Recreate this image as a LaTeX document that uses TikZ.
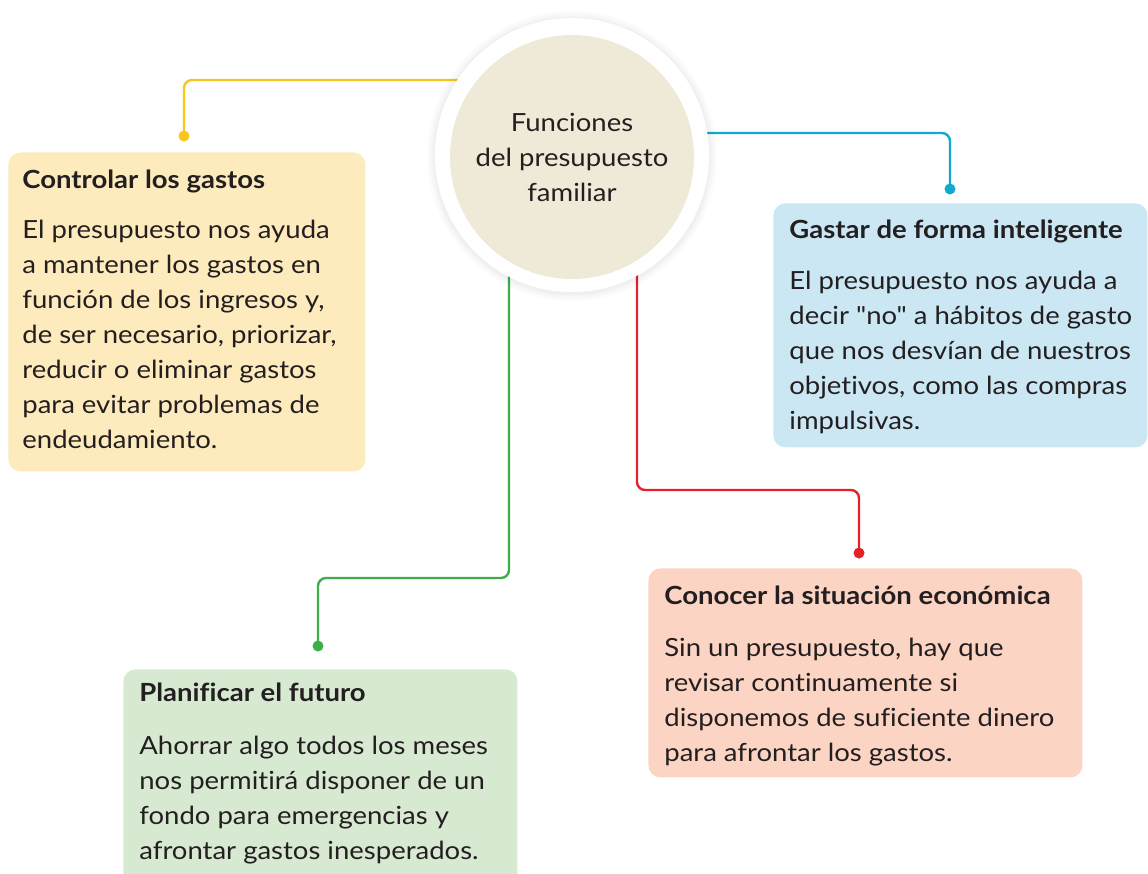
\documentclass[tikz,border=0pt]{standalone}
\usepackage{fontspec}
\setmainfont{Lato}[Ligatures={TeXOff,CommonOff}, FakeStretch=1.1]
\usetikzlibrary{positioning, calc}

\definecolor{ylwLine}{HTML}{F8C51C}
\definecolor{ylwBox}{HTML}{FDEBBD}
\definecolor{bluLine}{HTML}{12A9CE}
\definecolor{bluBox}{HTML}{CAE7F3}
\definecolor{grnLine}{HTML}{3DAE4A}
\definecolor{grnBox}{HTML}{D8E9D2}
\definecolor{redLine}{HTML}{E42129}
\definecolor{redBox}{HTML}{FBD4C3}
\definecolor{hubFill}{HTML}{EFEAD7}
\definecolor{ink}{HTML}{231F20}

\tikzset{
  link/.style={line width=1.2pt, rounded corners=4pt},
  dot/.style={shape=circle, inner sep=0pt, minimum size=5.5pt},
  card/.style={anchor=north west, rounded corners=6pt, inner sep=0pt},
  head/.style={anchor=north west, inner sep=0pt, text=ink,
    font=\fontsize{12.5}{17.5}\selectfont\bfseries},
  body/.style={anchor=north west, inner sep=0pt, align=left, text=ink,
    font=\fontsize{12.5}{17.5}\selectfont},
}

\begin{document}
\begin{tikzpicture}[x=0.5pt, y=-0.5pt]
    \useasboundingbox (0,0) rectangle (1148,874);
    \clip (0,0) rectangle (1148,874);

    % boxes
    \node[card, fill=ylwBox, minimum width=178.5pt, minimum height=159.5pt] (ctrlBox) at (8,152) {};
    \node[card, fill=bluBox, minimum width=187pt, minimum height=122pt] (smartBox) at (773,203) {};
    \node[card, fill=grnBox, minimum width=197pt, minimum height=120pt] (planBox) at (123,669) {};
    \node[card, fill=redBox, minimum width=217pt, minimum height=104.5pt] (econBox) at (648,568) {};

    % connectors
    \coordinate (ctrlFrom) at (480,80);
    \node[dot, fill=ylwLine] (ctrlDot) at (184,136) {};
    \draw[link, ylwLine] (ctrlFrom) -| (ctrlDot.center);

    \coordinate (smartFrom) at (680,133);
    \node[dot, fill=bluLine] (smartDot) at (950,189) {};
    \draw[link, bluLine] (smartFrom) -| (smartDot.center);

    \coordinate (planFrom) at (509,250);
    \coordinate (planBend) at (318,578);
    \node[dot, fill=grnLine] (planDot) at (318,646) {};
    \draw[link, grnLine] (planFrom) |- (planBend) -- (planDot.center);

    \coordinate (econFrom) at (637,250);
    \coordinate (econBend) at (859,490);
    \node[dot, fill=redLine] (econDot) at (859,553) {};
    \draw[link, redLine] (econFrom) |- (econBend) -- (econDot.center);

    % centre
    \node[shape=circle, fill=black, opacity=0.015, minimum size=145pt] (halo3) at (572,156) {};
    \node[shape=circle, fill=black, opacity=0.02, minimum size=142pt] (halo2) at (572,156) {};
    \node[shape=circle, fill=black, opacity=0.025, minimum size=139.5pt] (halo1) at (572,156) {};
    \node[shape=circle, fill=white, minimum size=137pt] (hub) at (572,155) {};
    \node[shape=circle, fill=hubFill, minimum size=122pt, align=center, text=ink,
      font=\fontsize{12.5}{17.5}\selectfont] (hubIn) at (572,157) {Funciones\\del presupuesto\\familiar};

    % texts
    \node[head] (ctrlHead) at (22,170) {Controlar los gastos};
    \node[body] (ctrlBody) at (22,220) {El presupuesto nos ayuda\\a mantener los gastos en\\función de los ingresos y,\\de ser necesario, priorizar,\\reducir o eliminar gastos\\para evitar problemas de\\endeudamiento.};

    \node[head] (smartHead) at (789,220) {Gastar de forma inteligente};
    \node[body] (smartBody) at (789,271) {El presupuesto nos ayuda a\\decir "no" a hábitos de gasto\\que nos desvían de nuestros\\objetivos, como las compras\\impulsivas.};

    \node[head] (planHead) at (139,683) {Planificar el futuro};
    \node[body] (planBody) at (139,736) {Ahorrar algo todos los meses\\nos permitirá disponer de un\\fondo para emergencias y\\afrontar gastos inesperados.};

    \node[head] (econHead) at (664,586) {Conocer la situación económica};
    \node[body] (econBody) at (664,638) {Sin un presupuesto, hay que\\revisar continuamente si\\disponemos de suficiente dinero\\para afrontar los gastos.};
\end{tikzpicture}
\end{document}
